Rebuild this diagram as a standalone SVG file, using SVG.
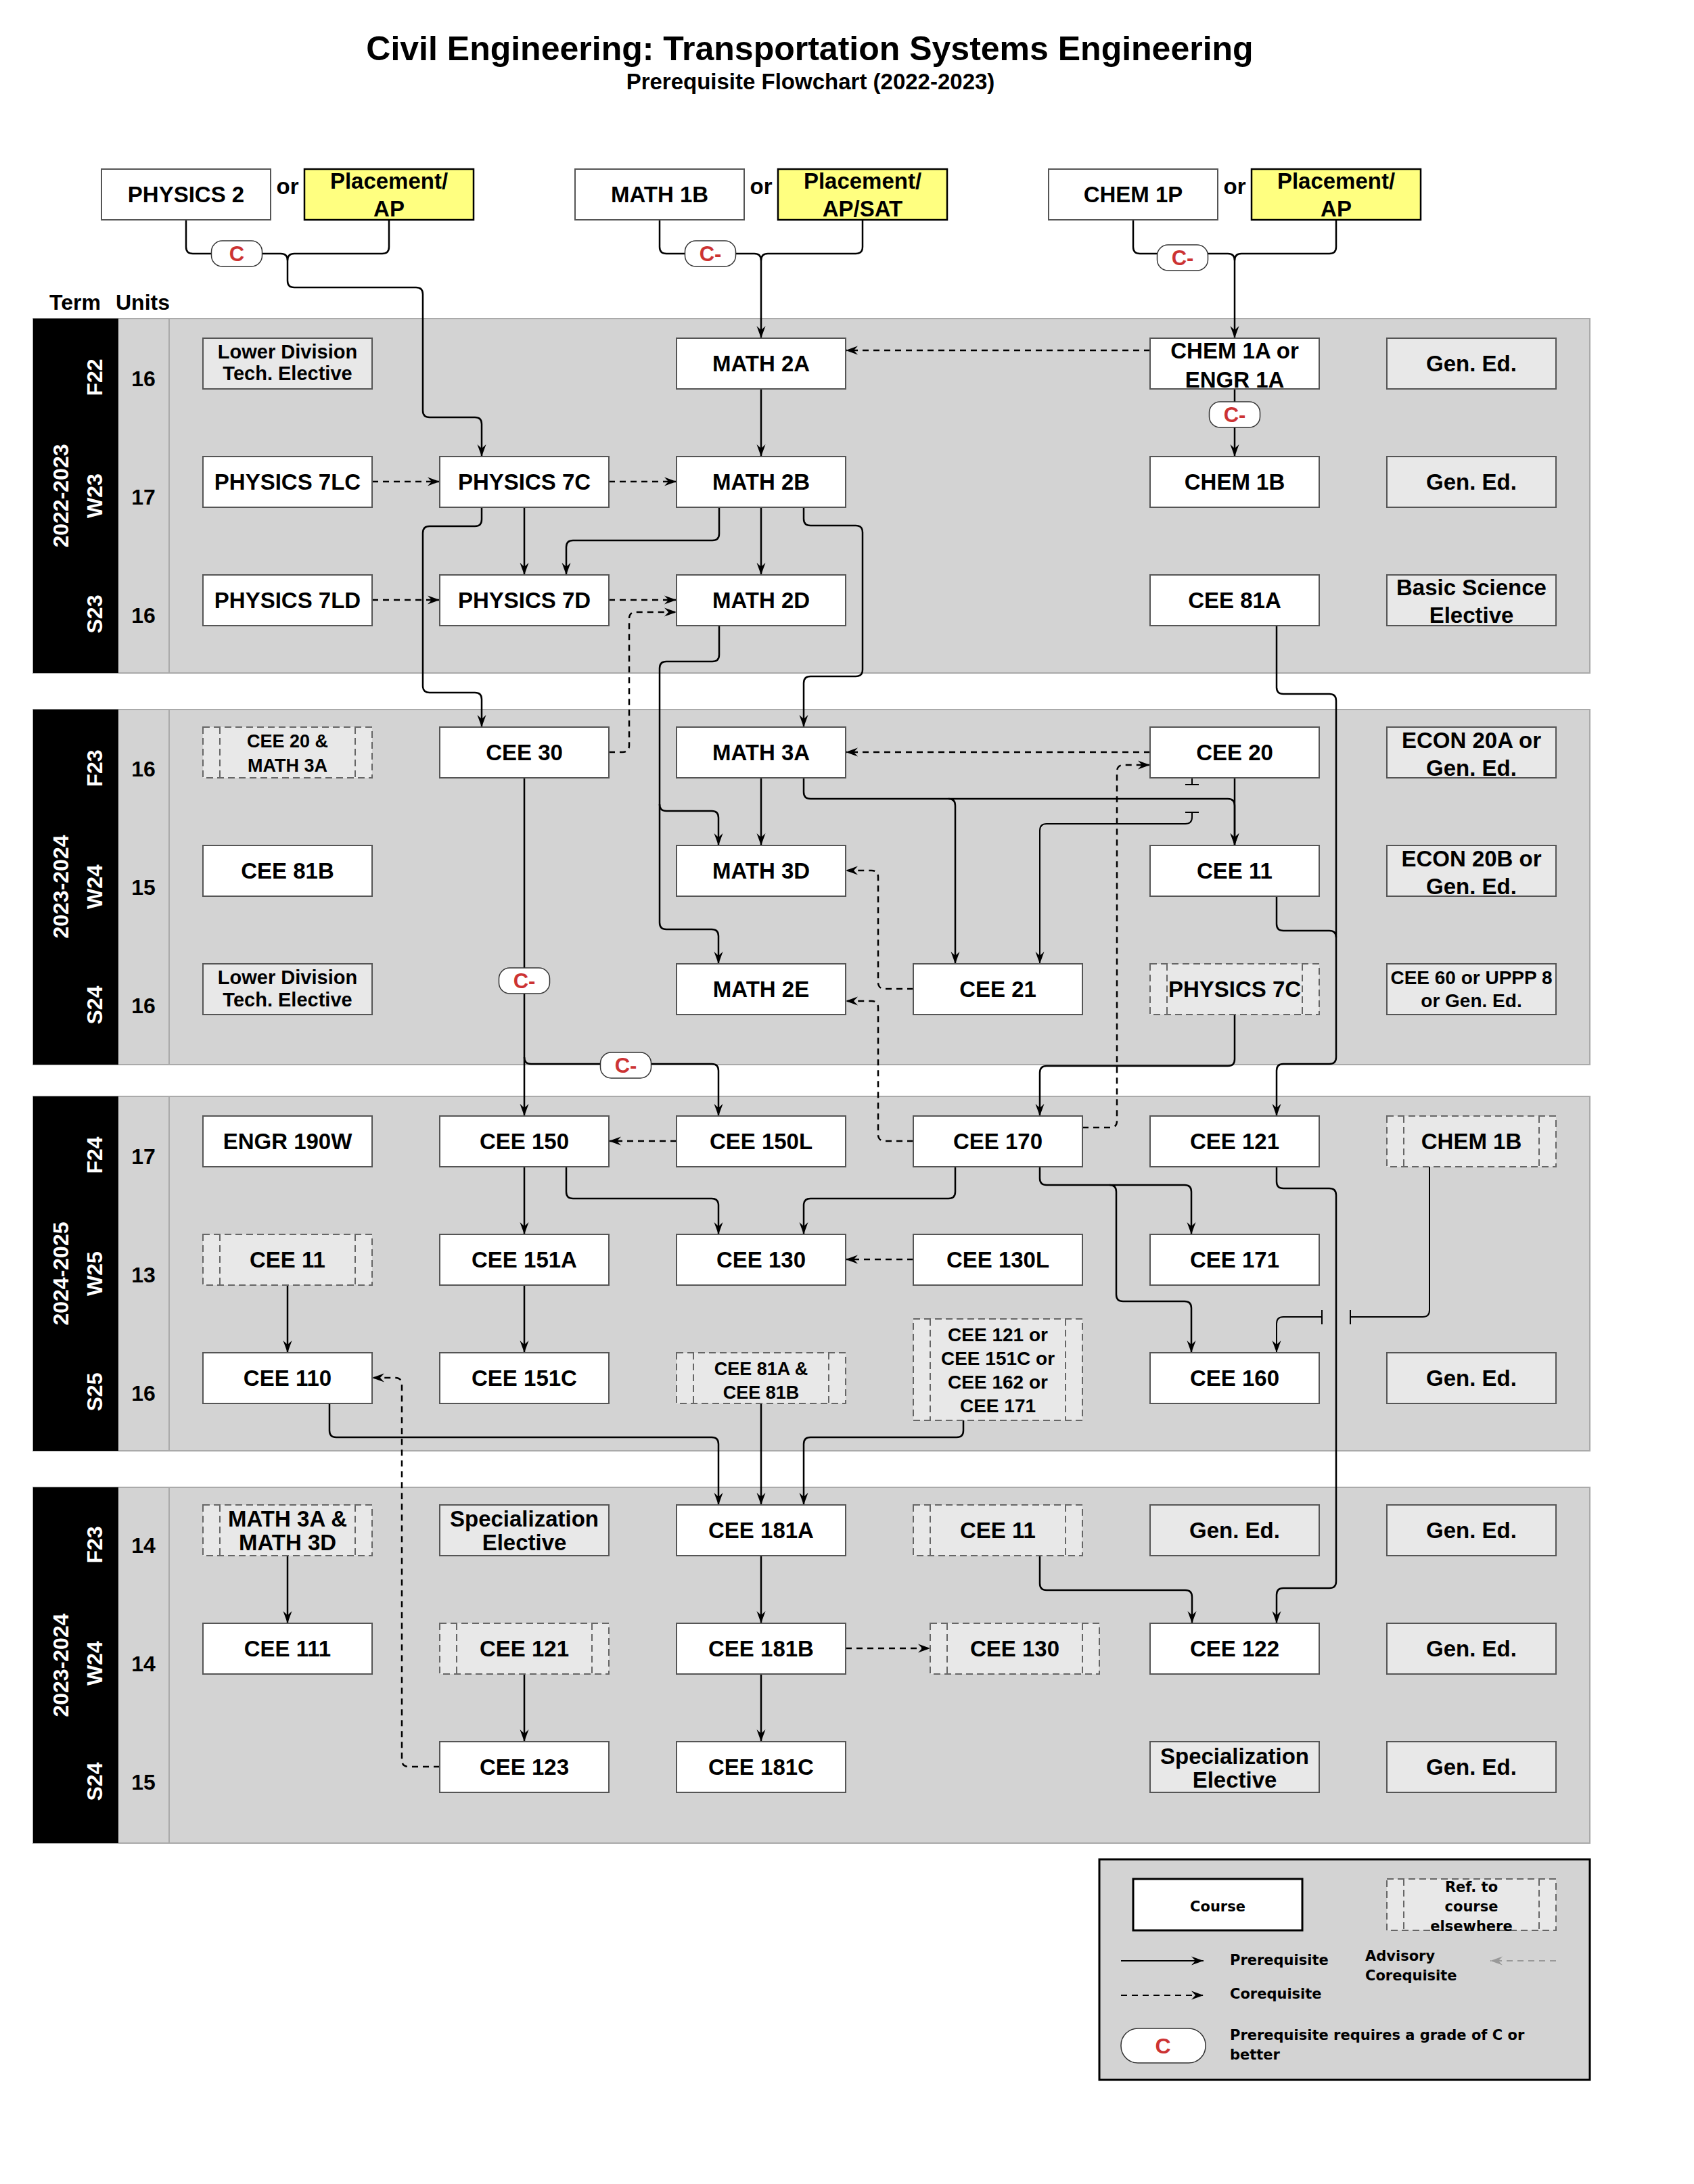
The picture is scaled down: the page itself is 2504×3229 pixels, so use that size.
<svg xmlns="http://www.w3.org/2000/svg" width="2504" height="3229" viewBox="0 0 2504 3229">
<defs>
<marker id="a" viewBox="-20 -8 20 16" refX="0" refY="0" markerWidth="20" markerHeight="16" orient="auto" markerUnits="userSpaceOnUse"><path d="M0,0 L-18,-6.5 L-12,0 L-18,6.5 Z" fill="#000"/></marker>
<marker id="ag" viewBox="-20 -8 20 16" refX="0" refY="0" markerWidth="20" markerHeight="16" orient="auto" markerUnits="userSpaceOnUse"><path d="M0,0 L-18,-6.5 L-12,0 L-18,6.5 Z" fill="#999"/></marker>
<style>
.band{fill:#d3d3d3;stroke:#aaa;stroke-width:2}
.blk{fill:#000}
.div{stroke:#aaa;stroke-width:2}
.box{fill:#fff;stroke:#555;stroke-width:2}
.gbox{fill:#e8e8e8;stroke:#555;stroke-width:2}
.ref{fill:#e8e8e8;stroke:#666;stroke-width:2;stroke-dasharray:10,6}
.refl{fill:none;stroke:#666;stroke-width:2;stroke-dasharray:10,6}
.yel{fill:#ffff80;stroke:#000;stroke-width:2.5}
.t{font-family:"Liberation Sans",Arial,Helvetica,sans-serif;font-weight:bold;text-anchor:middle;fill:#000;font-size:33px}
.s29{font-size:29px}.s28{font-size:28px}.s27{font-size:27px}
.w{fill:#fff;font-size:32px}
.u{font-size:32px}
.c{fill:none;stroke:#000;stroke-width:2.5}
.ca{fill:none;stroke:#000;stroke-width:2.5;marker-end:url(#a)}
.d{fill:none;stroke:#000;stroke-width:2.5;stroke-dasharray:9,7;marker-end:url(#a)}
.bar{fill:none;stroke:#000;stroke-width:2}
.pill{fill:#fff;stroke:#333;stroke-width:1.5}
.pt{font-family:"Liberation Sans",Arial,sans-serif;font-weight:bold;text-anchor:middle;fill:#cc3333;font-size:31px}
.lg{font-family:"DejaVu Sans",Verdana,sans-serif;font-weight:bold;fill:#000;font-size:21px}
</style>
</defs>
<rect x="0" y="0" width="2504" height="3229" fill="#fff"/>

<g id="title">
<text class="t" x="1197" y="89" style="font-size:50px">Civil Engineering: Transportation Systems Engineering</text>
<text class="t" x="1198" y="132">Prerequisite Flowchart (2022-2023)</text>
</g>

<g id="bands">
<rect class="band" x="49" y="471" width="2301" height="524"/>
<rect class="blk" x="49" y="471" width="126" height="524"/>
<line class="div" x1="250" y1="471" x2="250" y2="995"/>
<rect class="band" x="49" y="1049" width="2301" height="525"/>
<rect class="blk" x="49" y="1049" width="126" height="525"/>
<line class="div" x1="250" y1="1049" x2="250" y2="1574"/>
<rect class="band" x="49" y="1621" width="2301" height="524"/>
<rect class="blk" x="49" y="1621" width="126" height="524"/>
<line class="div" x1="250" y1="1621" x2="250" y2="2145"/>
<rect class="band" x="49" y="2199" width="2301" height="526"/>
<rect class="blk" x="49" y="2199" width="126" height="526"/>
<line class="div" x1="250" y1="2199" x2="250" y2="2725"/>
</g>

<g id="labels">
<text class="t u" x="73" y="458" style="text-anchor:start">Term</text>
<text class="t u" x="171" y="458" style="text-anchor:start">Units</text>
<text class="t w" transform="translate(101,733) rotate(-90)">2022-2023</text>
<text class="t w" transform="translate(151,558) rotate(-90)">F22</text>
<text class="t w" transform="translate(151,733) rotate(-90)">W23</text>
<text class="t w" transform="translate(151,908) rotate(-90)">S23</text>
<text class="t u" x="212" y="571">16</text>
<text class="t u" x="212" y="746">17</text>
<text class="t u" x="212" y="921">16</text>
<text class="t w" transform="translate(101,1311) rotate(-90)">2023-2024</text>
<text class="t w" transform="translate(151,1136) rotate(-90)">F23</text>
<text class="t w" transform="translate(151,1311) rotate(-90)">W24</text>
<text class="t w" transform="translate(151,1486) rotate(-90)">S24</text>
<text class="t u" x="212" y="1148">16</text>
<text class="t u" x="212" y="1323">15</text>
<text class="t u" x="212" y="1498">16</text>
<text class="t w" transform="translate(101,1883) rotate(-90)">2024-2025</text>
<text class="t w" transform="translate(151,1708) rotate(-90)">F24</text>
<text class="t w" transform="translate(151,1883) rotate(-90)">W25</text>
<text class="t w" transform="translate(151,2058) rotate(-90)">S25</text>
<text class="t u" x="212" y="1721">17</text>
<text class="t u" x="212" y="1896">13</text>
<text class="t u" x="212" y="2071">16</text>
<text class="t w" transform="translate(101,2462) rotate(-90)">2023-2024</text>
<text class="t w" transform="translate(151,2284) rotate(-90)">F23</text>
<text class="t w" transform="translate(151,2459) rotate(-90)">W24</text>
<text class="t w" transform="translate(151,2634) rotate(-90)">S24</text>
<text class="t u" x="212" y="2296">14</text>
<text class="t u" x="212" y="2471">14</text>
<text class="t u" x="212" y="2646">15</text>
</g>

<g id="connectors">
<!-- top -->
<path class="c" d="M275,325 V365 Q275,375 285,375 H313"/>
<path class="c" d="M387,375 H415 Q425,375 425,385"/>
<path class="c" d="M575,325 V365 Q575,375 565,375 H435 Q425,375 425,385"/>
<path class="ca" d="M425,385 V415 Q425,425 435,425 H615 Q625,425 625,435 V607 Q625,617 635,617 H702 Q712,617 712,627 V675"/>
<path class="c" d="M975,325 V365 Q975,375 985,375 H1013"/>
<path class="c" d="M1087,375 H1115 Q1125,375 1125,385"/>
<path class="c" d="M1275,325 V365 Q1275,375 1265,375 H1135 Q1125,375 1125,385"/>
<path class="ca" d="M1125,385 V500"/>
<path class="c" d="M1675,325 V365 Q1675,375 1685,375 H1711"/>
<path class="c" d="M1785,375 H1815 Q1825,375 1825,385"/>
<path class="c" d="M1975,325 V365 Q1975,375 1965,375 H1835 Q1825,375 1825,385"/>
<path class="ca" d="M1825,385 V500"/>
<!-- band 1 -->
<path class="ca" d="M1125,575 V675"/>
<path class="d" d="M1700,518 H1250"/>
<path class="ca" d="M1825,575 V675"/>
<path class="d" d="M550,712 H650"/>
<path class="d" d="M900,712 H1000"/>
<path class="d" d="M550,887 H650"/>
<path class="d" d="M900,887 H1000"/>
<path class="d" d="M900,1112 H920 Q930,1112 930,1102 V915 Q930,905 940,905 H1000"/>
<path class="ca" d="M775,750 V850"/>
<path class="ca" d="M712,750 V768 Q712,778 702,778 H635 Q625,778 625,788 V1014 Q625,1024 635,1024 H702 Q712,1024 712,1034 V1075"/>
<path class="ca" d="M1063,750 V789 Q1063,799 1053,799 H847 Q837,799 837,809 V850"/>
<path class="ca" d="M1125,750 V850"/>
<path class="ca" d="M1188,750 V767 Q1188,777 1198,777 H1265 Q1275,777 1275,787 V990 Q1275,1000 1265,1000 H1198 Q1188,1000 1188,1010 V1075"/>
<path class="ca" d="M1063,925 V968 Q1063,978 1053,978 H985 Q975,978 975,988 V1364 Q975,1374 985,1374 H1052 Q1062,1374 1062,1384 V1425"/>
<path class="ca" d="M975,1189 Q975,1199 985,1199 H1052 Q1062,1199 1062,1209 V1250"/>
<!-- band 2 -->
<path class="ca" d="M1125,1150 V1250"/>
<path class="ca" d="M1188,1150 V1171 Q1188,1181 1198,1181 H1815 Q1825,1181 1825,1191 V1250"/>
<path class="ca" d="M1402,1181 Q1412,1181 1412,1191 V1425"/>
<path class="ca" d="M1825,1150 V1250"/>
<path class="bar" d="M1762,1150 V1160 M1752,1160 H1772 M1752,1201 H1772"/>
<path class="ca" d="M1762,1201 V1208 Q1762,1218 1752,1218 H1547 Q1537,1218 1537,1228 V1425" style="stroke-width:2"/>
<path class="d" d="M1700,1112 H1250"/>
<path class="d" d="M1600,1667 H1641 Q1651,1667 1651,1657 V1141 Q1651,1131 1661,1131 H1700"/>
<path class="d" d="M1350,1462 H1308 Q1298,1462 1298,1452 V1297 Q1298,1287 1288,1287 H1250"/>
<path class="d" d="M1350,1687 H1308 Q1298,1687 1298,1677 V1490 Q1298,1480 1288,1480 H1250"/>
<path class="ca" d="M1887,925 V1016 Q1887,1026 1897,1026 H1965 Q1975,1026 1975,1036 V1563 Q1975,1573 1965,1573 H1897 Q1887,1573 1887,1583 V1650"/>
<path class="c" d="M1887,1325 V1366 Q1887,1376 1897,1376 H1965 Q1975,1376 1975,1386"/>
<path class="ca" d="M1825,1500 V1566 Q1825,1576 1815,1576 H1547 Q1537,1576 1537,1586 V1650"/>
<path class="ca" d="M775,1150 V1650"/>
<path class="ca" d="M775,1563 Q775,1573 785,1573 H1052 Q1062,1573 1062,1583 V1650"/>
<path class="d" d="M1000,1687 H900"/>
<!-- band 3 -->
<path class="ca" d="M775,1725 V1825"/>
<path class="ca" d="M837,1725 V1762 Q837,1772 847,1772 H1052 Q1062,1772 1062,1782 V1825"/>
<path class="ca" d="M1412,1725 V1762 Q1412,1772 1402,1772 H1198 Q1188,1772 1188,1782 V1825"/>
<path class="d" d="M1350,1862 H1250"/>
<path class="ca" d="M1537,1725 V1742 Q1537,1752 1547,1752 H1751 Q1761,1752 1761,1762 V1825"/>
<path class="ca" d="M1640,1752 Q1650,1752 1650,1762 V1914 Q1650,1924 1660,1924 H1751 Q1761,1924 1761,1934 V2000"/>
<path class="ca" d="M1887,1725 V1747 Q1887,1757 1897,1757 H1965 Q1975,1757 1975,1767 V2338 Q1975,2348 1965,2348 H1897 Q1887,2348 1887,2358 V2400"/>
<path class="bar" d="M2113,1725 V1937 Q2113,1947 2103,1947 H1996 M1996,1937 V1958 M1954,1937 V1958"/>
<path class="ca" d="M1954,1947 H1897 Q1887,1947 1887,1957 V2000" style="stroke-width:2"/>
<path class="ca" d="M425,1900 V2000"/>
<path class="ca" d="M775,1900 V2000"/>
<path class="d" d="M650,2612 H604 Q594,2612 594,2602 V2047 Q594,2037 584,2037 H550"/>
<path class="ca" d="M487,2075 V2115 Q487,2125 497,2125 H1052 Q1062,2125 1062,2135 V2225"/>
<path class="ca" d="M1125,2075 V2225"/>
<path class="ca" d="M1424,2100 V2115 Q1424,2125 1414,2125 H1198 Q1188,2125 1188,2135 V2225"/>
<!-- band 4 -->
<path class="ca" d="M425,2300 V2400"/>
<path class="ca" d="M1125,2300 V2400"/>
<path class="ca" d="M1125,2475 V2575"/>
<path class="d" d="M1250,2437 H1375"/>
<path class="ca" d="M1537,2300 V2341 Q1537,2351 1547,2351 H1752 Q1762,2351 1762,2361 V2400"/>
<path class="ca" d="M775,2475 V2575"/>
<!-- grade pills -->
<g id="pills">
<rect class="pill" x="312.5" y="356" width="75" height="38" rx="16"/><text class="pt" x="350" y="386">C</text>
<rect class="pill" x="1012.5" y="356" width="75" height="38" rx="16"/><text class="pt" x="1050" y="386">C-</text>
<rect class="pill" x="1710.5" y="362" width="75" height="38" rx="16"/><text class="pt" x="1748" y="392">C-</text>
<rect class="pill" x="1787.5" y="594" width="75" height="38" rx="16"/><text class="pt" x="1825" y="624">C-</text>
<rect class="pill" x="737.5" y="1431" width="75" height="38" rx="16"/><text class="pt" x="775" y="1461">C-</text>
<rect class="pill" x="887.5" y="1556" width="75" height="38" rx="16"/><text class="pt" x="925" y="1586">C-</text>
</g>
</g>

<g id="n-phys2"><rect class="box" x="150" y="250" width="250" height="75"/><text class="t" x="275" y="299">PHYSICS 2</text></g>
<g id="or1"><text class="t" x="425" y="287">or</text></g>
<g id="n-place1"><rect class="yel" x="450" y="250" width="250" height="75"/><text class="t" x="575" y="279">Placement/</text><text class="t" x="575" y="320">AP</text></g>
<g id="n-math1b"><rect class="box" x="850" y="250" width="250" height="75"/><text class="t" x="975" y="299">MATH 1B</text></g>
<g id="or2"><text class="t" x="1125" y="287">or</text></g>
<g id="n-place2"><rect class="yel" x="1150" y="250" width="250" height="75"/><text class="t" x="1275" y="279">Placement/</text><text class="t" x="1275" y="320">AP/SAT</text></g>
<g id="n-chem1p"><rect class="box" x="1550" y="250" width="250" height="75"/><text class="t" x="1675" y="299">CHEM 1P</text></g>
<g id="or3"><text class="t" x="1825" y="287">or</text></g>
<g id="n-place3"><rect class="yel" x="1850" y="250" width="250" height="75"/><text class="t" x="1975" y="279">Placement/</text><text class="t" x="1975" y="320">AP</text></g>

<!-- band 1 -->
<g id="n-lde1"><rect class="gbox" x="300" y="500" width="250" height="75"/><text class="t s29" x="425" y="530">Lower Division</text><text class="t s29" x="425" y="562">Tech. Elective</text></g>
<g id="n-math2a"><rect class="box" x="1000" y="500" width="250" height="75"/><text class="t" x="1125" y="549">MATH 2A</text></g>
<g id="n-chem1a"><rect class="box" x="1700" y="500" width="250" height="75"/><text class="t" x="1825" y="530">CHEM 1A or</text><text class="t" x="1825" y="573">ENGR 1A</text></g>
<g id="n-ge1"><rect class="gbox" x="2050" y="500" width="250" height="75"/><text class="t" x="2175" y="549">Gen. Ed.</text></g>
<g id="n-phys7lc"><rect class="box" x="300" y="675" width="250" height="75"/><text class="t" x="425" y="724">PHYSICS 7LC</text></g>
<g id="n-phys7c"><rect class="box" x="650" y="675" width="250" height="75"/><text class="t" x="775" y="724">PHYSICS 7C</text></g>
<g id="n-math2b"><rect class="box" x="1000" y="675" width="250" height="75"/><text class="t" x="1125" y="724">MATH 2B</text></g>
<g id="n-chem1b"><rect class="box" x="1700" y="675" width="250" height="75"/><text class="t" x="1825" y="724">CHEM 1B</text></g>
<g id="n-ge2"><rect class="gbox" x="2050" y="675" width="250" height="75"/><text class="t" x="2175" y="724">Gen. Ed.</text></g>
<g id="n-phys7ld"><rect class="box" x="300" y="850" width="250" height="75"/><text class="t" x="425" y="899">PHYSICS 7LD</text></g>
<g id="n-phys7d"><rect class="box" x="650" y="850" width="250" height="75"/><text class="t" x="775" y="899">PHYSICS 7D</text></g>
<g id="n-math2d"><rect class="box" x="1000" y="850" width="250" height="75"/><text class="t" x="1125" y="899">MATH 2D</text></g>
<g id="n-cee81a"><rect class="box" x="1700" y="850" width="250" height="75"/><text class="t" x="1825" y="899">CEE 81A</text></g>
<g id="n-bse"><rect class="gbox" x="2050" y="850" width="250" height="75"/><text class="t" x="2175" y="880">Basic Science</text><text class="t" x="2175" y="921">Elective</text></g>

<!-- band 2 -->
<g id="r-cee20math3a"><rect class="ref" x="300" y="1075" width="250" height="75"/><path class="refl" d="M325,1075 V1150 M525,1075 V1150"/><text class="t s27" x="425" y="1105">CEE 20 &amp;</text><text class="t s27" x="425" y="1141">MATH 3A</text></g>
<g id="n-cee30"><rect class="box" x="650" y="1075" width="250" height="75"/><text class="t" x="775" y="1124">CEE 30</text></g>
<g id="n-math3a"><rect class="box" x="1000" y="1075" width="250" height="75"/><text class="t" x="1125" y="1124">MATH 3A</text></g>
<g id="n-cee20"><rect class="box" x="1700" y="1075" width="250" height="75"/><text class="t" x="1825" y="1124">CEE 20</text></g>
<g id="n-econ20a"><rect class="gbox" x="2050" y="1075" width="250" height="75"/><text class="t" x="2175" y="1106">ECON 20A or</text><text class="t" x="2175" y="1147">Gen. Ed.</text></g>
<g id="n-cee81b"><rect class="box" x="300" y="1250" width="250" height="75"/><text class="t" x="425" y="1299">CEE 81B</text></g>
<g id="n-math3d"><rect class="box" x="1000" y="1250" width="250" height="75"/><text class="t" x="1125" y="1299">MATH 3D</text></g>
<g id="n-cee11"><rect class="box" x="1700" y="1250" width="250" height="75"/><text class="t" x="1825" y="1299">CEE 11</text></g>
<g id="n-econ20b"><rect class="gbox" x="2050" y="1250" width="250" height="75"/><text class="t" x="2175" y="1281">ECON 20B or</text><text class="t" x="2175" y="1322">Gen. Ed.</text></g>
<g id="n-lde2"><rect class="gbox" x="300" y="1425" width="250" height="75"/><text class="t s29" x="425" y="1455">Lower Division</text><text class="t s29" x="425" y="1488">Tech. Elective</text></g>
<g id="n-math2e"><rect class="box" x="1000" y="1425" width="250" height="75"/><text class="t" x="1125" y="1474">MATH 2E</text></g>
<g id="n-cee21"><rect class="box" x="1350" y="1425" width="250" height="75"/><text class="t" x="1475" y="1474">CEE 21</text></g>
<g id="r-phys7c"><rect class="ref" x="1700" y="1425" width="250" height="75"/><path class="refl" d="M1725,1425 V1500 M1925,1425 V1500"/><text class="t" x="1825" y="1474">PHYSICS 7C</text></g>
<g id="n-cee60"><rect class="gbox" x="2050" y="1425" width="250" height="75"/><text class="t s28" x="2175" y="1455">CEE 60 or UPPP 8</text><text class="t s28" x="2175" y="1489">or Gen. Ed.</text></g>

<!-- band 3 -->
<g id="n-engr190w"><rect class="box" x="300" y="1650" width="250" height="75"/><text class="t" x="425" y="1699">ENGR 190W</text></g>
<g id="n-cee150"><rect class="box" x="650" y="1650" width="250" height="75"/><text class="t" x="775" y="1699">CEE 150</text></g>
<g id="n-cee150l"><rect class="box" x="1000" y="1650" width="250" height="75"/><text class="t" x="1125" y="1699">CEE 150L</text></g>
<g id="n-cee170"><rect class="box" x="1350" y="1650" width="250" height="75"/><text class="t" x="1475" y="1699">CEE 170</text></g>
<g id="n-cee121"><rect class="box" x="1700" y="1650" width="250" height="75"/><text class="t" x="1825" y="1699">CEE 121</text></g>
<g id="r-chem1b"><rect class="ref" x="2050" y="1650" width="250" height="75"/><path class="refl" d="M2075,1650 V1725 M2275,1650 V1725"/><text class="t" x="2175" y="1699">CHEM 1B</text></g>
<g id="r-cee11a"><rect class="ref" x="300" y="1825" width="250" height="75"/><path class="refl" d="M325,1825 V1900 M525,1825 V1900"/><text class="t" x="425" y="1874">CEE 11</text></g>
<g id="n-cee151a"><rect class="box" x="650" y="1825" width="250" height="75"/><text class="t" x="775" y="1874">CEE 151A</text></g>
<g id="n-cee130"><rect class="box" x="1000" y="1825" width="250" height="75"/><text class="t" x="1125" y="1874">CEE 130</text></g>
<g id="n-cee130l"><rect class="box" x="1350" y="1825" width="250" height="75"/><text class="t" x="1475" y="1874">CEE 130L</text></g>
<g id="n-cee171"><rect class="box" x="1700" y="1825" width="250" height="75"/><text class="t" x="1825" y="1874">CEE 171</text></g>
<g id="n-cee110"><rect class="box" x="300" y="2000" width="250" height="75"/><text class="t" x="425" y="2049">CEE 110</text></g>
<g id="n-cee151c"><rect class="box" x="650" y="2000" width="250" height="75"/><text class="t" x="775" y="2049">CEE 151C</text></g>
<g id="r-cee81ab"><rect class="ref" x="1000" y="2000" width="250" height="75"/><path class="refl" d="M1025,2000 V2075 M1225,2000 V2075"/><text class="t s27" x="1125" y="2033">CEE 81A &amp;</text><text class="t s27" x="1125" y="2068">CEE 81B</text></g>
<g id="r-cee121or"><rect class="ref" x="1350" y="1950" width="250" height="150"/><path class="refl" d="M1375,1950 V2100 M1575,1950 V2100"/><text class="t s28" x="1475" y="1983">CEE 121 or</text><text class="t s28" x="1475" y="2018">CEE 151C or</text><text class="t s28" x="1475" y="2053">CEE 162 or</text><text class="t s28" x="1475" y="2088">CEE 171</text></g>
<g id="n-cee160"><rect class="box" x="1700" y="2000" width="250" height="75"/><text class="t" x="1825" y="2049">CEE 160</text></g>
<g id="n-ge3"><rect class="gbox" x="2050" y="2000" width="250" height="75"/><text class="t" x="2175" y="2049">Gen. Ed.</text></g>

<!-- band 4 -->
<g id="r-math3a3d"><rect class="ref" x="300" y="2225" width="250" height="75"/><path class="refl" d="M325,2225 V2300 M525,2225 V2300"/><text class="t" x="425" y="2257">MATH 3A &amp;</text><text class="t" x="425" y="2292">MATH 3D</text></g>
<g id="n-spec1"><rect class="gbox" x="650" y="2225" width="250" height="75"/><text class="t" x="775" y="2257">Specialization</text><text class="t" x="775" y="2292">Elective</text></g>
<g id="n-cee181a"><rect class="box" x="1000" y="2225" width="250" height="75"/><text class="t" x="1125" y="2274">CEE 181A</text></g>
<g id="r-cee11b"><rect class="ref" x="1350" y="2225" width="250" height="75"/><path class="refl" d="M1375,2225 V2300 M1575,2225 V2300"/><text class="t" x="1475" y="2274">CEE 11</text></g>
<g id="n-ge4"><rect class="gbox" x="1700" y="2225" width="250" height="75"/><text class="t" x="1825" y="2274">Gen. Ed.</text></g>
<g id="n-ge5"><rect class="gbox" x="2050" y="2225" width="250" height="75"/><text class="t" x="2175" y="2274">Gen. Ed.</text></g>
<g id="n-cee111"><rect class="box" x="300" y="2400" width="250" height="75"/><text class="t" x="425" y="2449">CEE 111</text></g>
<g id="r-cee121"><rect class="ref" x="650" y="2400" width="250" height="75"/><path class="refl" d="M675,2400 V2475 M875,2400 V2475"/><text class="t" x="775" y="2449">CEE 121</text></g>
<g id="n-cee181b"><rect class="box" x="1000" y="2400" width="250" height="75"/><text class="t" x="1125" y="2449">CEE 181B</text></g>
<g id="r-cee130"><rect class="ref" x="1375" y="2400" width="250" height="75"/><path class="refl" d="M1400,2400 V2475 M1600,2400 V2475"/><text class="t" x="1500" y="2449">CEE 130</text></g>
<g id="n-cee122"><rect class="box" x="1700" y="2400" width="250" height="75"/><text class="t" x="1825" y="2449">CEE 122</text></g>
<g id="n-ge6"><rect class="gbox" x="2050" y="2400" width="250" height="75"/><text class="t" x="2175" y="2449">Gen. Ed.</text></g>
<g id="n-cee123"><rect class="box" x="650" y="2575" width="250" height="75"/><text class="t" x="775" y="2624">CEE 123</text></g>
<g id="n-cee181c"><rect class="box" x="1000" y="2575" width="250" height="75"/><text class="t" x="1125" y="2624">CEE 181C</text></g>
<g id="n-spec2"><rect class="gbox" x="1700" y="2575" width="250" height="75"/><text class="t" x="1825" y="2608">Specialization</text><text class="t" x="1825" y="2643">Elective</text></g>
<g id="n-ge7"><rect class="gbox" x="2050" y="2575" width="250" height="75"/><text class="t" x="2175" y="2624">Gen. Ed.</text></g>

<!-- legend -->
<g id="legend">
<rect x="1625" y="2749" width="725" height="326" fill="#d3d3d3" stroke="#000" stroke-width="3"/>
<rect x="1675" y="2778" width="250" height="76" fill="#fff" stroke="#000" stroke-width="3"/>
<text class="lg" x="1800" y="2826" text-anchor="middle">Course</text>
<rect class="ref" x="2050" y="2778" width="250" height="76"/>
<path class="refl" d="M2075,2778 V2854 M2275,2778 V2854"/>
<text class="lg" x="2175" y="2797" text-anchor="middle">Ref. to</text>
<text class="lg" x="2175" y="2826" text-anchor="middle">course</text>
<text class="lg" x="2175" y="2855" text-anchor="middle">elsewhere</text>
<path class="ca" d="M1657,2899 H1779" style="stroke-width:2"/>
<text class="lg" x="1818" y="2905">Prerequisite</text>
<path class="d" d="M1657,2950 H1779" style="stroke-width:2"/>
<text class="lg" x="1818" y="2955">Corequisite</text>
<text class="lg" x="2018" y="2899">Advisory</text>
<text class="lg" x="2018" y="2928">Corequisite</text>
<path d="M2300,2899 H2203" fill="none" stroke="#999" stroke-width="2" stroke-dasharray="9,7" marker-end="url(#ag)"/>
<rect class="pill" x="1657" y="2999" width="125" height="51" rx="25"/>
<text class="pt" x="1719" y="3036" style="font-size:32px">C</text>
<text class="lg" x="1818" y="3016">Prerequisite requires a grade of C or</text>
<text class="lg" x="1818" y="3045">better</text>
</g>
</svg>
